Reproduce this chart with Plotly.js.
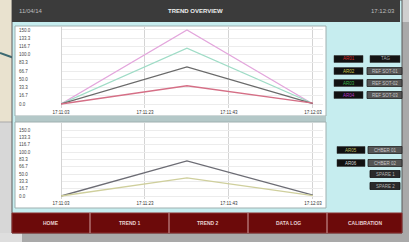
<!DOCTYPE html>
<html><head><meta charset="utf-8">
<script src="https://cdn.plot.ly/plotly-3.0.1.min.js"></script>
<style>html,body{margin:0;padding:0;overflow:hidden;background:#e9e2cf}#c{width:409px;height:242px}</style>
</head><body><div id="c"></div>
<script>
// ---- data ----
const timeSec = [0, 30, 60];
const xTickVals = [0, 20, 40, 60];
const xTickText = ["17:11:03", "17:11:23", "17:11:43", "17:12:03"];
const yTickVals = [0, 16.7, 33.3, 50, 66.7, 83.3, 100, 116.7, 133.3, 150];
const yTickText = ["0.0", "16.7", "33.3", "50.0", "66.7", "83.3", "100.0", "116.7", "133.3", "150.0"];
const upperPink = [0, 150, 0];
const upperGreen = [0, 113, 1];
const upperGray = [0, 75, 1];
const upperRed = [0, 37, 2];
const lowerGray = [0, 80, 2];
const lowerOlive = [0, 41, 1];
const buttonLabels = ["HOME", "TREND 1", "TREND 2", "DATA LOG", "CALIBRATION"];
const upperTags = ["AR01", "AR02", "AR03", "AR04"];
const upperTagColors = ["#d42a2a", "#c9c24a", "#3bb34a", "#b236c4"];
const upperRefs = ["TAG", "REF SOT-01", "REF SOT-02", "REF SOT-03"];
const lowerTags = ["AR05", "AR06"];
const lowerTagColors = ["#b8b860", "#d8d8d8"];
const lowerRefs = ["CHBER 01", "CHBER 02", "SPARE 1", "SPARE 2"];

// ---- helpers ----
const W = 409, H = 242;
const X = p => p / W, Y = p => 1 - p / H;
const rect = (x0, y0, x1, y1, fill, line, lw) => ({type: 'rect', xref: 'paper', yref: 'paper', layer: 'below',
  x0: X(x0), x1: X(x1), y0: Y(y1), y1: Y(y0), fillcolor: fill, line: {color: line || fill, width: lw === undefined ? 0 : lw}});
const lineS = (x0, y0, x1, y1, color, w) => ({type: 'line', xref: 'paper', yref: 'paper', layer: 'below',
  x0: X(x0), x1: X(x1), y0: Y(y0), y1: Y(y1), line: {color: color, width: w}});
const txt = (x, y, t, size, color, extra) => Object.assign({xref: 'paper', yref: 'paper', x: X(x), y: Y(y),
  text: t, showarrow: false, font: {size: size, color: color, family: 'Liberation Sans, Arial, sans-serif'},
  xanchor: 'center', yanchor: 'middle'}, extra || {});
const FONT = 'Liberation Sans, Arial, sans-serif';

const tr = (y, color, xa, ya) => ({x: timeSec, y: y, type: 'scatter', mode: 'lines', xaxis: xa, yaxis: ya,
  line: {color: color, width: 1.3}, hoverinfo: 'skip'});
const traces = [
  tr(upperPink, '#e3a6dc', 'x', 'y'),
  tr(upperGreen, '#9fdcc6', 'x', 'y'),
  tr(upperGray, '#6a6a6a', 'x', 'y'),
  tr(upperRed, '#d56f86', 'x', 'y'),
  tr(lowerGray, '#6c6c74', 'x2', 'y2'),
  tr(lowerOlive, '#cfcf9c', 'x2', 'y2')
];

const shapes = [
  rect(0, 122, 12, 242, '#d7d7d7'),
  lineS(0, 122, 12, 122, '#a9a9a9', 1),
  rect(402, 0, 409, 242, '#a9a9a9'),
  rect(400, 0, 409, 22, '#cfcfcf'),
  rect(0, 233, 22, 242, '#dedede'),
  rect(22, 233, 409, 242, '#a9a9a9'),
  lineS(0, 53, 14, 58, '#3d6a72', 2),
  rect(12, 0, 402, 233, '#c6edef', '#5a5a5a', 1),
  rect(12, 0, 400, 22, '#3b3b3b'),
  rect(15, 26, 326, 116, '#ffffff', '#9fb0b0', 1),
  rect(15, 116, 326, 122, '#b4c8c8'),
  rect(15, 122, 326, 208, '#ffffff', '#9fb0b0', 1),
  rect(12, 213, 402, 233, '#6c0a0a', '#8a3030', 1)
];
[90, 169, 248, 327].forEach(x => shapes.push(lineS(x, 213, x, 233, '#b07070', 1.5)));

const ann = [
  txt(17, 11, '11/04/14', 6, '#bdbdbd', {xanchor: 'left'}),
  txt(195, 11, '<b>TREND OVERVIEW</b>', 6, '#eeeeee'),
  txt(397, 11, '17:12:03', 6, '#bdbdbd', {xanchor: 'right'})
];
const btnCx = [51, 130, 208, 288, 365];
buttonLabels.forEach((b, i) => ann.push(txt(btnCx[i], 223, '<b>' + b + '</b>', 5, '#e6d0d0')));

const upRows = [59, 71, 83, 95];
upperTags.forEach((t, i) => {
  shapes.push(rect(334, upRows[i] - 3.5, 363, upRows[i] + 3.5, '#111111', '#333', 0.5));
  ann.push(txt(348.5, upRows[i], t, 4.5, upperTagColors[i]));
});
upperRefs.forEach((t, i) => {
  if (i === 0) {
    shapes.push(rect(370, upRows[i] - 3.5, 400, upRows[i] + 3.5, '#141414', '#333', 0.5));
    ann.push(txt(385, upRows[i], t, 4.5, '#aaaaaa'));
  } else {
    shapes.push(rect(367, upRows[i] - 3.5, 402, upRows[i] + 3.5, '#555555', '#222', 0.8));
    ann.push(txt(384.5, upRows[i], t, 4.5, '#c8c8c8'));
  }
});
const loRows = [150, 163, 174, 186];
lowerTags.forEach((t, i) => {
  shapes.push(rect(337, loRows[i] - 3.5, 365, loRows[i] + 3.5, '#111111', '#333', 0.5));
  ann.push(txt(351, loRows[i], t, 4.5, lowerTagColors[i]));
});
lowerRefs.forEach((t, i) => {
  if (i < 2) {
    shapes.push(rect(368, loRows[i] - 3.5, 402, loRows[i] + 3.5, '#555555', '#222', 0.8));
    ann.push(txt(385, loRows[i], t, 4.5, '#c8c8c8'));
  } else {
    shapes.push(rect(370, loRows[i] - 3.5, 400, loRows[i] + 3.5, '#2a2a2a', '#111', 0.8));
    ann.push(txt(385, loRows[i], t, 4.5, '#b0b0b0'));
  }
});

const xBase = {domain: [X(61), X(323)], range: [0, 62.4], tickvals: xTickVals, ticktext: xTickText,
  tickfont: {size: 4.5, color: '#333', family: FONT}, showgrid: true, gridcolor: '#d4d4d4', gridwidth: 1,
  zeroline: true, zerolinecolor: '#d4d4d4', zerolinewidth: 1, showline: false, ticks: '', fixedrange: true};
const yBase = {tickvals: yTickVals, ticktext: yTickText, tickfont: {size: 4.5, color: '#444', family: FONT},
  showgrid: true, gridcolor: '#ececec', gridwidth: 1, zeroline: false, showline: false, ticks: '',
  anchor: 'free', position: X(15), ticklabelposition: 'inside', fixedrange: true};

const layout = {
  width: W, height: H, margin: {l: 0, r: 0, t: 0, b: 0, pad: 0},
  paper_bgcolor: '#e9e2cf', plot_bgcolor: 'rgba(0,0,0,0)', showlegend: false,
  xaxis: Object.assign({}, xBase, {anchor: 'y'}),
  yaxis: Object.assign({}, yBase, {domain: [Y(108), Y(25.5)], range: [-8.1, 159.1]}),
  xaxis2: Object.assign({}, xBase, {anchor: 'y2'}),
  yaxis2: Object.assign({}, yBase, {domain: [Y(199), Y(123)], range: [-6.8, 165.9]}),
  shapes: shapes, annotations: ann
};
Plotly.newPlot('c', traces, layout, {staticPlot: true, displayModeBar: false});
</script></body></html>
